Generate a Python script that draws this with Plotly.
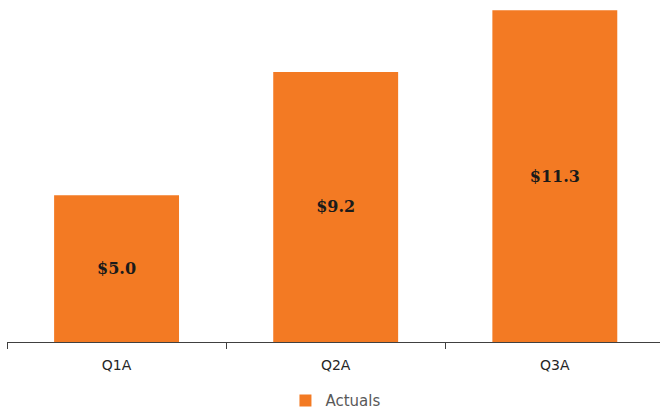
import plotly.graph_objects as go

categories = ["Q1A", "Q2A", "Q3A"]
actuals = [5.0, 9.2, 11.3]
labels = ["$5.0", "$9.2", "$11.3"]

fig = go.Figure()
fig.add_trace(go.Bar(
    x=categories, y=actuals, name="Actuals",
    marker=dict(color="#F37A23", line=dict(width=0)),
    text=labels, textposition="inside", insidetextanchor="middle",
    textfont=dict(family="DejaVu Serif", size=16, color="#1a1a1a", weight="bold"),
    textangle=0,
))
fig.update_layout(
    width=660, height=414,
    margin=dict(l=7, r=0, t=0, b=72, autoexpand=False),
    paper_bgcolor="white", plot_bgcolor="white",
    bargap=0.43,
    showlegend=True,
    legend=dict(orientation="h", x=0.503, xanchor="center", y=-0.172, yanchor="middle",
                font=dict(family="DejaVu Sans", size=15, color="#595959")),
    xaxis=dict(range=[-0.5, 2.48], showline=True, linecolor="#404040", linewidth=1,
               ticks="outside", tickson="boundaries", ticklen=6, tickcolor="#404040",
               ticklabelstandoff=10, automargin=False,
               tickfont=dict(family="DejaVu Sans", size=14, color="#262626"),
               showgrid=False),
    yaxis=dict(range=[0, 11.65], visible=False, showgrid=False, automargin=False),
)
fig.write_html("out.html", config={"displayModeBar": False},
               post_script="document.body.style.margin='0';")
